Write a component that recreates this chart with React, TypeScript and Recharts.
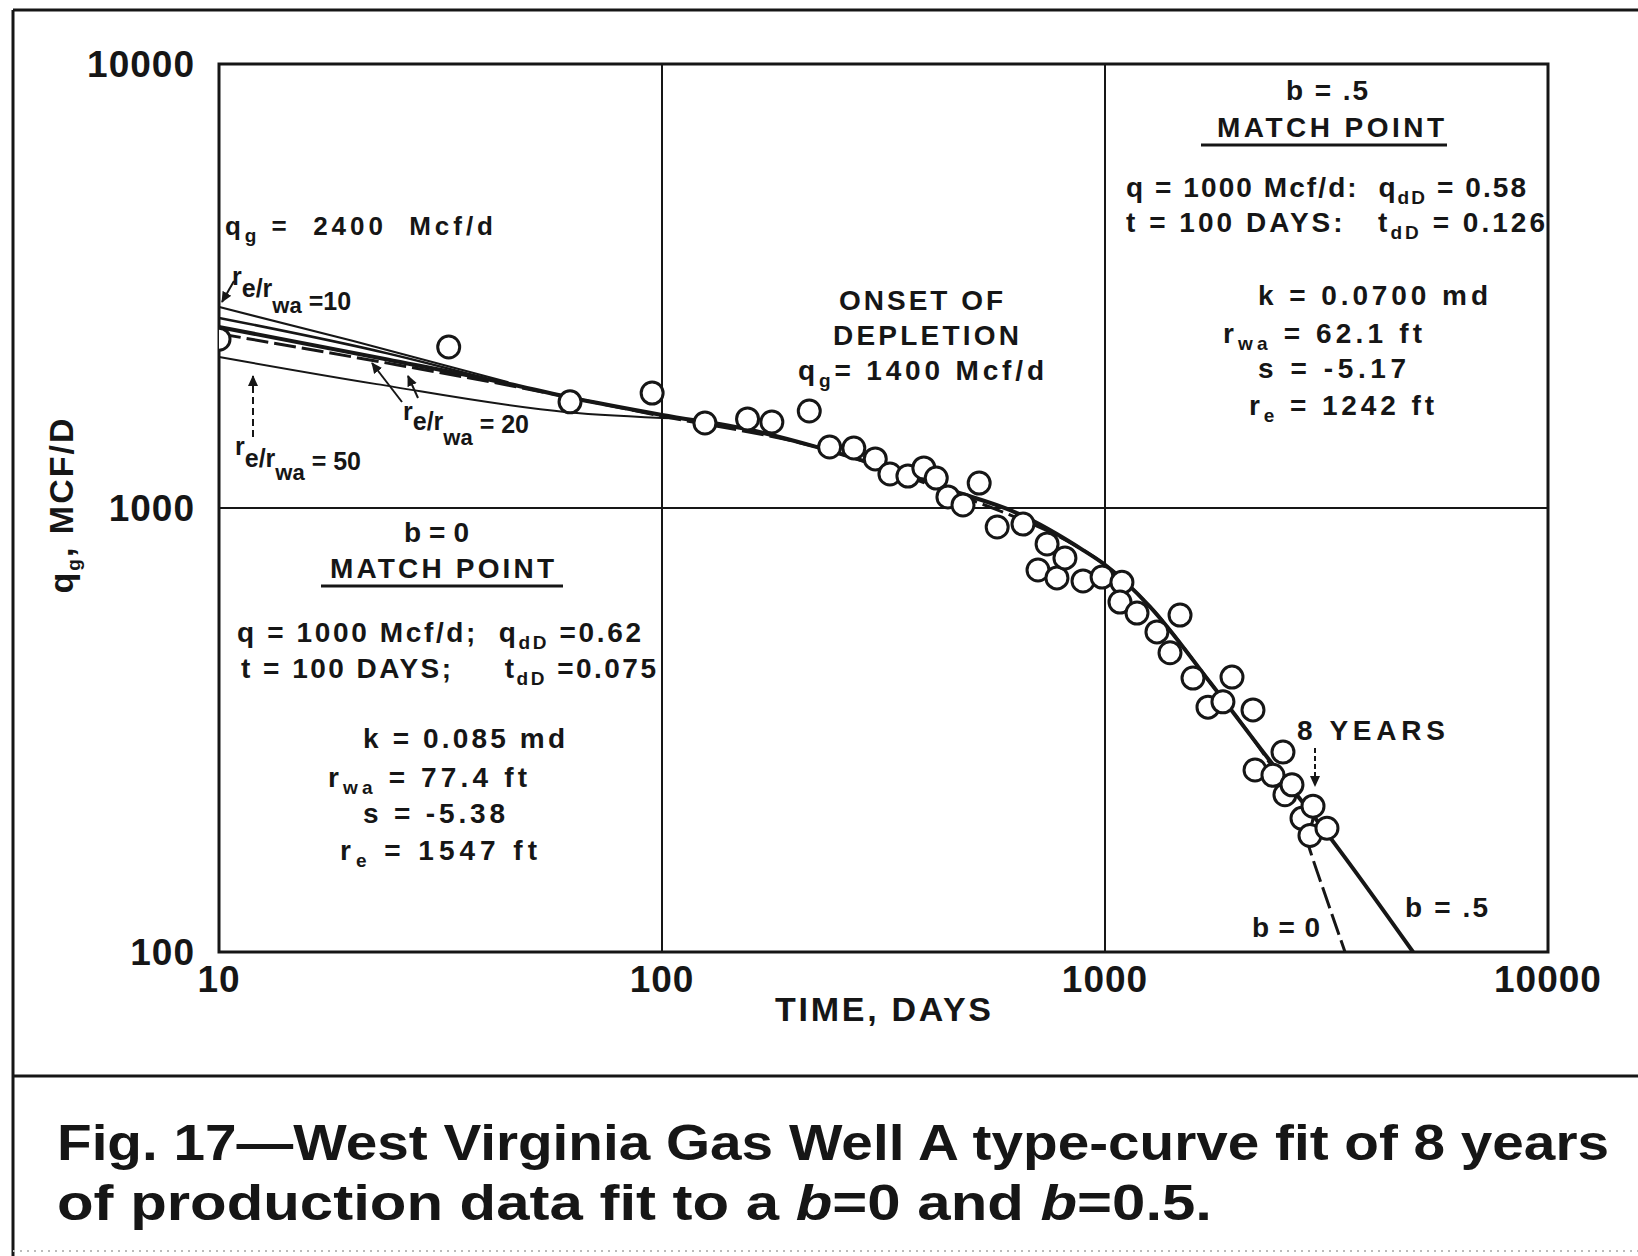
import { CartesianGrid, ComposedChart, Line, ReferenceArea, Scatter, XAxis, YAxis } from "recharts";

// axis ticks
const timeTicks = [10, 100, 1000, 10000];
const rateTicks = [100, 1000, 10000];

// production data (days, Mcf/d)
const obsDays = [10, 33, 62, 95, 125, 156, 177, 215, 239, 271, 303, 327, 359, 390, 416, 442, 478, 520, 571, 653, 706, 740, 779, 812, 892, 985, 1092, 1081, 1181, 1310, 1477, 1402, 1580, 1935, 1708, 1846, 2158, 2181, 2394, 2522, 2548, 2643, 2784, 2902, 2948, 3170];
const obsRate = [2400, 2305, 1734, 1815, 1554, 1587, 1562, 1654, 1372, 1365, 1290, 1193, 1180, 1231, 1168, 1059, 1016, 1138, 906, 920, 725, 830, 696, 772, 685, 699, 680, 614, 580, 526, 574, 472, 414, 416, 356, 366, 351, 257, 250, 282, 226, 238, 200, 183, 213, 190];

// b = .5 type curve
const b05Days = [10, 24, 45, 61, 100, 158, 224, 315, 447, 633, 892, 1000, 1264, 1726, 2321, 3223, 4959];
const b05Rate = [2557, 2160, 1905, 1780, 1620, 1500, 1371, 1237, 1098, 974, 804, 745, 599, 405, 275, 181, 100];

// b = 0 type curve
const b0Days = [10, 24, 45, 100, 224, 447, 633, 800, 1000, 1264, 1726, 2321, 2713, 2900, 3170, 3482];
const b0Rate = [2470, 2120, 1890, 1610, 1371, 1085, 950, 855, 745, 599, 405, 272, 212, 170, 131, 100];

// early-time re/rwa stems
const re10Days = [10, 20, 45];
const re10Rate = [2836, 2380, 1920];
const re20Days = [10, 24, 40];
const re20Rate = [2680, 2230, 1960];
const re50Days = [10, 22.7, 61, 110];
const re50Rate = [2188, 1901, 1644, 1590];

const toPoints = (days: number[], rates: number[]) => days.map((t, i) => ({ t, q: rates[i] }));

const FONT = "'Liberation Sans', Arial, Helvetica, sans-serif";
const INK = "#161616";

const XTick = (props: any) => {
  const { x, y, payload } = props;
  return (
    <text x={x} y={y} textAnchor="middle" dominantBaseline="central" fontFamily={FONT} fontWeight={700} fontSize={37} letterSpacing={1} fill={INK}>
      {payload.value}
    </text>
  );
};

const YTick = (props: any) => {
  const { x, y, payload } = props;
  return (
    <text x={x} y={y} textAnchor="end" dominantBaseline="central" fontFamily={FONT} fontWeight={700} fontSize={37} letterSpacing={1} fill={INK}>
      {payload.value}
    </text>
  );
};

const Dot = (props: any) => <circle cx={props.cx} cy={props.cy} r={11} fill="#fff" stroke={INK} strokeWidth={3} />;

const T = (p: any) => (
  <text fontFamily={FONT} fontWeight={700} fill={INK} fontSize={28} xmlSpace="preserve" style={{ whiteSpace: "pre" }} {...p} />
);

// subscript followed by the rest of the line back on the baseline
const SubRest = ({ sub, rest }: { sub: string; rest: string }) => (
  <>
    <tspan fontSize={19} dy={7}>{sub}</tspan>
    <tspan dy={-7}>{rest}</tspan>
  </>
);

const Notes = () => (
  <svg width={1638} height={1256} style={{ position: "absolute", left: 0, top: 0, pointerEvents: "none" }}>
    <defs>
      <marker id="ah" markerWidth={12} markerHeight={12} refX={10} refY={6} orient="auto" markerUnits="userSpaceOnUse">
        <path d="M0,1 L11,6 L0,11 z" fill={INK} />
      </marker>
    </defs>

    {/* page frame */}
    <line x1={13} y1={10} x2={1638} y2={10} stroke={INK} strokeWidth={3} />
    <line x1={13} y1={10} x2={13} y2={1256} stroke={INK} strokeWidth={3} />
    <line x1={13} y1={1076} x2={1638} y2={1076} stroke={INK} strokeWidth={3} />
    <line x1={13} y1={1251} x2={1638} y2={1251} stroke="#bbb" strokeWidth={2} strokeDasharray="2 5" />

    {/* axis titles */}
    <T x={775} y={1021} fontSize={34} letterSpacing={2} textLength={218}>TIME, DAYS</T>
    <g transform="rotate(-90 61 505)">
      <T x={61} y={517} fontSize={34} letterSpacing={2} textAnchor="middle">
        q<SubRest sub="g" rest=", MCF/D" />
      </T>
    </g>

    {/* early-time notes */}
    <T x={225} y={235} fontSize={26} textLength={268}>
      q<SubRest sub="g" rest=" =  2400  Mcf/d" />
    </T>
    <T x={232} y={285} fontSize={25}>
      r<tspan dy={12}>e/r</tspan>
      <tspan dy={16} fontSize={22}>wa</tspan>
      <tspan dy={-3}> =10</tspan>
    </T>
    <T x={403} y={420} fontSize={25}>
      r<tspan dy={10}>e/r</tspan>
      <tspan dy={15} fontSize={22}>wa</tspan>
      <tspan dy={-12}> = 20</tspan>
    </T>
    <T x={235} y={455} fontSize={25}>
      r<tspan dy={12}>e/r</tspan>
      <tspan dy={13} fontSize={22}>wa</tspan>
      <tspan dy={-10}> = 50</tspan>
    </T>
    <line x1={234} y1={281} x2={222} y2={302} stroke={INK} strokeWidth={2} markerEnd="url(#ah)" />
    <line x1={402} y1={402} x2={372} y2={363} stroke={INK} strokeWidth={2} markerEnd="url(#ah)" />
    <line x1={418} y1={398} x2={408} y2={376} stroke={INK} strokeWidth={2} markerEnd="url(#ah)" />
    <line x1={253} y1={437} x2={253} y2={376} stroke={INK} strokeWidth={2} strokeDasharray="7 4" markerEnd="url(#ah)" />

    {/* onset of depletion */}
    <T x={839} y={310} textLength={164}>ONSET OF</T>
    <T x={833} y={345} textLength={186}>DEPLETION</T>
    <T x={798} y={380} textLength={246}>
      q<SubRest sub="g" rest="= 1400 Mcf/d" />
    </T>

    {/* b = .5 match point */}
    <T x={1286} y={100} textLength={82}>b = .5</T>
    <T x={1217} y={137} textLength={227}>MATCH POINT</T>
    <line x1={1201} y1={145} x2={1447} y2={145} stroke={INK} strokeWidth={3} />
    <T x={1126} y={197} textLength={400}>
      q = 1000 Mcf/d:  q<SubRest sub="dD" rest=" = 0.58" />
    </T>
    <T x={1126} y={232} textLength={419}>
      t = 100 DAYS:   t<SubRest sub="dD" rest=" = 0.126" />
    </T>
    <T x={1258} y={305} textLength={230}>k = 0.0700 md</T>
    <T x={1223} y={343} textLength={199}>
      r<SubRest sub="wa" rest=" = 62.1 ft" />
    </T>
    <T x={1258} y={378} textLength={148}>s = -5.17</T>
    <T x={1249} y={415} textLength={185}>
      r<SubRest sub="e" rest=" = 1242 ft" />
    </T>

    {/* b = 0 match point */}
    <T x={404} y={542} textLength={65}>b=0</T>
    <T x={330} y={578} textLength={224}>MATCH POINT</T>
    <line x1={321} y1={586} x2={563} y2={586} stroke={INK} strokeWidth={3} />
    <T x={237} y={642} textLength={404}>
      q = 1000 Mcf/d;  q<SubRest sub="dD" rest=" =0.62" />
    </T>
    <T x={241} y={678} textLength={415}>
      t = 100 DAYS;     t<SubRest sub="dD" rest=" =0.075" />
    </T>
    <T x={363} y={748} textLength={202}>k = 0.085 md</T>
    <T x={328} y={787} textLength={199}>
      r<SubRest sub="wa" rest=" = 77.4 ft" />
    </T>
    <T x={363} y={823} textLength={142}>s = -5.38</T>
    <T x={340} y={860} textLength={197}>
      r<SubRest sub="e" rest=" = 1547 ft" />
    </T>

    {/* late-time notes */}
    <T x={1297} y={740} textLength={148}>8 YEARS</T>
    <line x1={1315} y1={748} x2={1315} y2={786} stroke={INK} strokeWidth={2} strokeDasharray="5 3" markerEnd="url(#ah)" />
    <T x={1252} y={937} textLength={68}>b = 0</T>
    <T x={1405} y={917} textLength={83}>b = .5</T>

    {/* caption */}
    <text x={57} y={1160} fontFamily={FONT} fontWeight={700} fontSize={50} fill={INK} textLength={1552} lengthAdjust="spacingAndGlyphs">
      Fig. 17—West Virginia Gas Well A type-curve fit of 8 years
    </text>
    <text x={57} y={1220} fontFamily={FONT} fontWeight={700} fontSize={50} fill={INK} textLength={1155} lengthAdjust="spacingAndGlyphs">
      of production data fit to a <tspan fontStyle="italic">b</tspan>=0 and <tspan fontStyle="italic">b</tspan>=0.5.
    </text>
  </svg>
);

export default function App() {
  return (
    <div style={{ position: "absolute", left: 0, top: 0, width: 1638, height: 1256, background: "#fff" }}>
      <ComposedChart width={1638} height={1256} margin={{ top: 64, right: 90, bottom: 244, left: 19 }}>
        <CartesianGrid stroke={INK} strokeWidth={2} />
        <XAxis
          dataKey="t"
          type="number"
          scale="log"
          domain={[10, 10000]}
          ticks={timeTicks}
          interval={0}
          allowDataOverflow
          height={60}
          tickSize={0}
          tickMargin={27}
          axisLine={false}
          tickLine={false}
          tick={XTick}
        />
        <YAxis
          dataKey="q"
          type="number"
          scale="log"
          domain={[100, 10000]}
          ticks={rateTicks}
          interval={0}
          allowDataOverflow
          width={200}
          tickSize={0}
          tickMargin={24}
          axisLine={false}
          tickLine={false}
          tick={YTick}
        />
        <ReferenceArea x1={10} x2={10000} y1={100} y2={10000} fill="none" stroke={INK} strokeWidth={3} ifOverflow="visible" />
        <Line data={toPoints(re10Days, re10Rate)} dataKey="q" type="monotone" stroke={INK} strokeWidth={2} dot={false} activeDot={false} isAnimationActive={false} />
        <Line data={toPoints(re20Days, re20Rate)} dataKey="q" type="monotone" stroke={INK} strokeWidth={2.5} dot={false} activeDot={false} isAnimationActive={false} />
        <Line data={toPoints(re50Days, re50Rate)} dataKey="q" type="monotone" stroke={INK} strokeWidth={2} dot={false} activeDot={false} isAnimationActive={false} />
        <Line data={toPoints(b05Days, b05Rate)} dataKey="q" type="monotone" stroke={INK} strokeWidth={4} dot={false} activeDot={false} isAnimationActive={false} />
        <Line data={toPoints(b0Days, b0Rate)} dataKey="q" type="monotone" stroke={INK} strokeWidth={3} strokeDasharray="22 6" dot={false} activeDot={false} isAnimationActive={false} />
        <Scatter data={toPoints(obsDays, obsRate)} dataKey="q" shape={Dot} isAnimationActive={false} />
      </ComposedChart>
      <Notes />
    </div>
  );
}
